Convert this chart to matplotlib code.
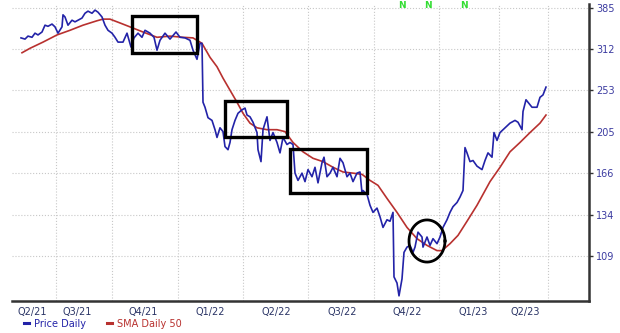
import numpy as np
import matplotlib
matplotlib.use("Agg")
import matplotlib.pyplot as plt
from matplotlib.lines import Line2D
from matplotlib.patches import Rectangle
from matplotlib.ticker import NullLocator, FixedLocator

# trading-day index and daily close
price_day = [
    1, 5, 8, 12, 15, 18, 22, 25, 28, 32, 35, 38, 42, 43, 45, 48, 52, 55, 58, 62,
    65, 68, 72, 75, 78, 82, 85, 88, 92, 95,
    98, 103, 107, 111, 114, 118, 122, 125, 130, 134, 137, 140, 145, 150, 156, 160,
    165, 170, 173, 177, 180, 182, 183, 185, 188, 192, 195, 197, 200, 203, 205, 208, 210, 212, 215, 218,
    222, 225, 227, 230, 233, 237, 238, 241, 243, 247, 250, 253, 257, 260, 263, 267, 270, 273, 275, 278,
    282, 285, 288, 292, 295, 298, 302, 304, 307, 310, 313, 317, 320, 323, 327, 330, 333, 337, 340, 342,
    343, 347, 350, 353, 357, 360, 363, 367, 370, 373, 374, 377, 379, 382, 384, 387, 390, 393, 395, 398,
    402, 403, 407, 410, 413, 417, 420, 423, 427, 430, 433, 437, 440, 443, 445, 447, 450, 453, 457, 462,
    465, 468, 472, 474, 477, 480, 485, 490, 495, 498, 502, 503, 506, 508, 512, 517, 520, 523, 526,
]
price = [
    330, 328, 333, 331, 338, 335, 340, 352, 350, 354, 349, 338, 349, 371, 367, 352, 361, 358, 361, 365,
    374, 378, 374, 380, 376, 367, 352, 343, 338, 331,
    323, 323, 338, 315, 330, 338, 331, 343, 338, 331, 310, 326, 338, 328, 340, 331,
    330, 326, 310, 296, 321, 321, 238, 232, 220, 217, 207, 199, 209, 205, 190, 187, 194, 207, 217, 225,
    229, 231, 223, 221, 215, 204, 187, 176, 207, 221, 196, 204, 194, 184, 199, 192, 194, 192, 166, 160,
    166, 159, 169, 163, 171, 158, 175, 180, 163, 166, 171, 163, 179, 175, 163, 166, 159, 166, 167, 150,
    152, 149, 141, 136, 139, 133, 126, 131, 130, 136, 98, 95, 89, 97, 111, 114, 115, 111, 114, 123,
    120, 114, 120, 115, 119, 116, 120, 126, 131, 136, 140, 143, 147, 152, 189, 184, 176, 177, 172, 169,
    177, 184, 180, 204, 196, 204, 209, 214, 217, 215, 207, 227, 241, 238, 232, 232, 244, 247, 257,
]

sma_day = [
    2, 10, 23, 37, 50, 63, 77, 83, 90, 100, 110, 123, 137, 150, 163, 173, 182, 190, 197, 203,
    210, 217, 223, 230, 237, 247, 257, 265, 273, 283, 293, 303, 313, 323, 333, 342, 350, 358, 367, 377,
    387, 397, 407, 417, 422, 430, 438, 447, 457, 470, 480, 490, 500, 510, 520, 526,
]
sma50 = [
    306, 313, 323, 335, 343, 352, 360, 363, 363, 356, 349, 340, 331, 333, 331, 330, 321, 299, 285, 269,
    253, 238, 225, 214, 209, 207, 207, 205, 194, 185, 179, 176, 171, 167, 166, 165, 160, 156, 146, 136,
    126, 119, 115, 112, 112, 116, 121, 130, 141, 159, 171, 185, 194, 204, 214, 223,
]

price_ticks = [109, 134, 166, 205, 253, 312, 385]
quarter_labels = ["Q2/21", "Q3/21", "Q4/21", "Q1/22", "Q2/22", "Q3/22", "Q4/22", "Q1/23", "Q2/23"]
quarter_label_day = [12, 57, 123, 190, 256, 322, 387, 453, 505]
grid_day = [36, 92, 158, 223, 288, 354, 419, 479, 528]
new_high_day = [382, 408, 444]

# highlighted consolidation zones: (day start, day end, low, high)
boxes = [(112, 177, 305.5, 368.5), (205, 267, 199.4, 239.5), (270, 347, 150.1, 187.6)]
# circled base: centre day, centre price, half width (days), half height (log units)
circle = (407, 117.6, 18, 0.107)

BLUE = "#2323a8"
RED = "#b8312f"

fig = plt.figure(figsize=(6.2, 3.33), dpi=100)
ax = fig.add_axes([12 / 620, 32 / 333, 577 / 620, 297 / 333])

ax.plot(sma_day, sma50, color=RED, lw=1.2, zorder=3)
ax.plot(price_day, price, color=BLUE, lw=1.2, zorder=4)

for d0, d1, lo, hi in boxes:
    ax.add_patch(Rectangle((d0, lo), d1 - d0, hi - lo, fill=False,
                           edgecolor="black", lw=2.4, zorder=5))

t = np.linspace(0, 2 * np.pi, 200)
cx, cy, rx, ry = circle
ax.plot(cx + rx * np.cos(t), cy * np.exp(ry * np.sin(t)), color="black", lw=2.0, zorder=5)

ax.set_yscale("log")
ax.set_xlim(-8, 569)
ax.set_ylim(86.7, 392)

ax.yaxis.tick_right()
ax.yaxis.set_major_locator(FixedLocator(price_ticks))
ax.yaxis.set_minor_locator(NullLocator())
ax.set_yticklabels([str(v) for v in price_ticks])
ax.tick_params(axis="y", length=3, width=1, color="#333333", pad=2,
               labelsize=7, labelcolor="#3b3ba0")

ax.set_xticks(quarter_label_day)
ax.set_xticklabels(quarter_labels)
ax.set_xticks(grid_day, minor=True)
ax.tick_params(axis="x", which="both", length=0, pad=4, labelsize=7, labelcolor="#2b3566")

ax.grid(True, axis="y", which="major", color="#c8c8c8", ls=":", lw=0.8)
ax.grid(True, axis="x", which="minor", color="#c8c8c8", ls=":", lw=0.8)
ax.grid(False, axis="x", which="major")

for side in ("left", "top"):
    ax.spines[side].set_visible(False)
for side in ("right", "bottom"):
    ax.spines[side].set_color("#333333")
    ax.spines[side].set_linewidth(1.8)

for d in new_high_day:
    ax.text(d, 0.995, "N", transform=ax.get_xaxis_transform(), color="#33dd33",
            fontsize=6.5, fontweight="bold", ha="center", va="center")

handles = [Line2D([], [], color=BLUE, lw=2.2), Line2D([], [], color=RED, lw=2.2)]
fig.legend(handles, ["Price Daily", "SMA Daily 50"], loc="center left",
           bbox_to_anchor=(0.025, 0.028), ncol=2, frameon=False, fontsize=7,
           handlelength=0.5, handletextpad=0.5, columnspacing=2.2,
           labelcolor=[BLUE, RED])

fig.savefig("out.png", dpi=100)
